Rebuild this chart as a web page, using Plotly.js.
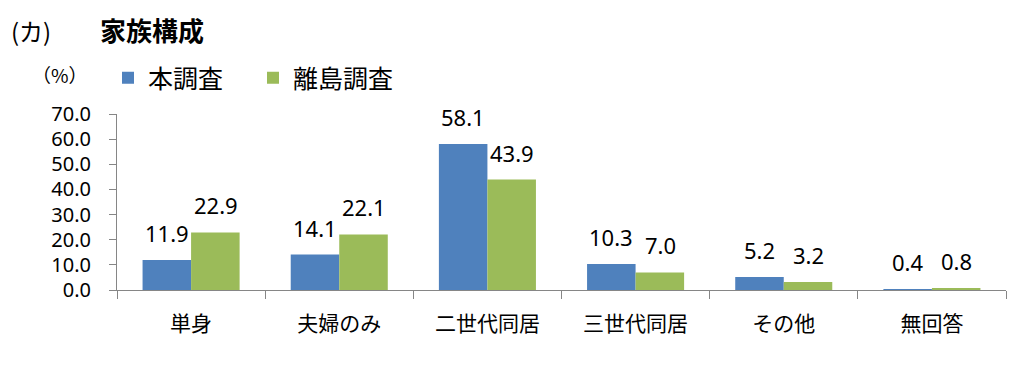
<!DOCTYPE html>
<html><head><meta charset="utf-8">
<script src="https://cdn.plot.ly/plotly-3.0.1.min.js"></script>
<style>body{margin:0;background:#fff}#c{width:1024px;height:368px}</style>
</head><body><div id="c"></div>
<script>
const categories = ['単身','夫婦のみ','二世代同居','三世代同居','その他','無回答'];
const honChosa = [11.9, 14.1, 58.1, 10.3, 5.2, 0.4];
const ritouChosa = [22.9, 22.1, 43.9, 7.0, 3.2, 0.8];
const seriesNames = ['本調査','離島調査'];
const yTicks = [0,10,20,30,40,50,60,70];

const F = '"Noto Sans CJK JP", "Noto Sans", sans-serif';
const N = '"Noto Sans", sans-serif';
const mk = (vals, name, color) => ({
  type:'bar', x:categories, y:vals, name:name,
  marker:{color:color, line:{width:0}}, cliponaxis:false
});
const data = [mk(honChosa, seriesNames[0], '#4F81BD'), mk(ritouChosa, seriesNames[1], '#9BBB59')];

const labelAnn = [];
[[honChosa,-24.5],[ritouChosa,24.5]].forEach(([vals,dx])=>{
  vals.forEach((v,i)=>labelAnn.push({
    x:categories[i], y:v, xref:'x', yref:'y', text:v.toFixed(1), showarrow:false,
    xanchor:'center', yanchor:'middle', xshift:dx, yshift:27,
    font:{size:22, family:N, color:'#000'}
  }));
});

const px = v => (v-117)/889, py = v => (290-v)/176;
const layout = {
  width:1024, height:368,
  margin:{l:117, r:18, t:114, b:78},
  paper_bgcolor:'#fff', plot_bgcolor:'#fff',
  font:{family:F, color:'#000'},
  barmode:'group', bargap:0.345, bargroupgap:0,
  showlegend:true,
  legend:{orientation:'h', x:px(108), xanchor:'left', y:py(78), yanchor:'middle',
    font:{size:25, family:F}, entrywidth:100, itemwidth:30, bgcolor:'rgba(0,0,0,0)'},
  xaxis:{showline:true, linecolor:'#868686', linewidth:1, ticks:'outside', ticklen:8,
    tickcolor:'#868686', tickson:'boundaries', tickfont:{size:21, family:F}, showgrid:false,
    ticklabelstandoff:15},
  yaxis:{range:[0,70], tickvals:yTicks, tickformat:'.1f', showline:true, linecolor:'#868686',
    ticks:'outside', ticklen:7, tickcolor:'#868686', showgrid:false, zeroline:false,
    tickfont:{size:20, family:N}, ticklabelstandoff:14},
  annotations:[
    {text:'(カ)', xref:'paper', yref:'paper', x:px(9), y:py(31), xanchor:'left', yanchor:'middle',
      showarrow:false, font:{size:24, family:F}},
    {text:'<b>家族構成</b>', xref:'paper', yref:'paper', x:px(98), xanchor:'left', y:py(29), yanchor:'middle', showarrow:false, font:{size:26, family:F}},
    {text:'（%）', xref:'paper', yref:'paper', x:px(30), xanchor:'left', y:py(75), yanchor:'middle', showarrow:false, font:{size:19, family:F}}
  ].concat(labelAnn)
};
Plotly.newPlot('c', data, layout, {displayModeBar:false, staticPlot:true});
</script></body></html>
